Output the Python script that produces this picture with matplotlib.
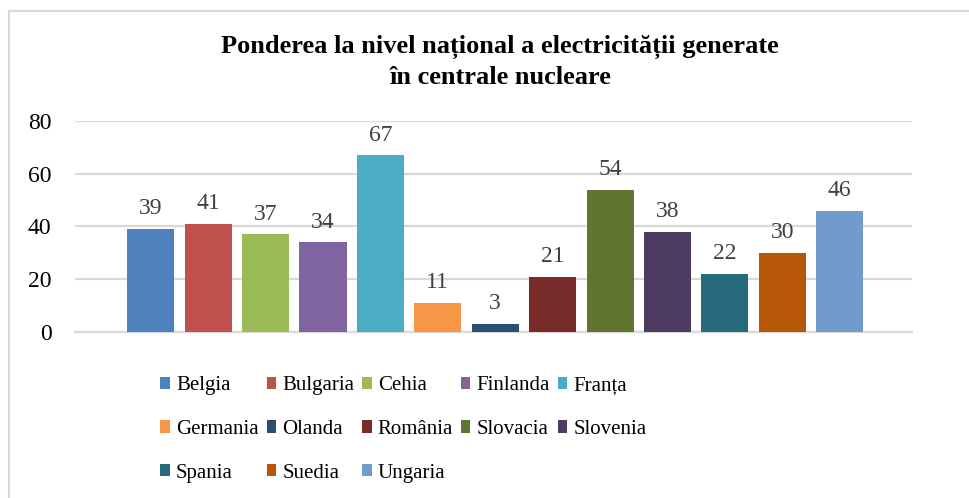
import numpy as np
import matplotlib.pyplot as plt
from matplotlib.lines import Line2D
from matplotlib.patches import Patch

# date
tari = ["Belgia", "Bulgaria", "Cehia", "Finlanda", "Franța", "Germania", "Olanda",
        "România", "Slovacia", "Slovenia", "Spania", "Suedia", "Ungaria"]
pondere = [39, 41, 37, 34, 67, 11, 3, 21, 54, 38, 22, 30, 46]
culori = ["#4F81BD", "#C0504D", "#9BBB59", "#8064A2", "#4BACC6", "#F79646", "#2C4D75",
          "#772C2A", "#5F7530", "#4D3B62", "#276A7C", "#B65708", "#729ACA"]
y_ticks = [0, 20, 40, 60, 80]

plt.rcParams['font.family'] = ['Liberation Serif', 'DejaVu Serif']

fig = plt.figure(figsize=(9.69, 4.98), dpi=100)
ax = fig.add_axes([75/969, 1-332/498, 837/969, 211/498])

x = np.arange(len(tari))
bars = ax.bar(x, pondere, width=0.82, color=culori, zorder=3)

for xi, v in zip(x, pondere):
    ax.annotate(str(v), (xi, v), xytext=(0, 7), textcoords='offset points',
                ha='center', va='bottom', fontsize=17, color='#404040')

ax.set_ylim(0, 80)
ax.set_xlim(-1.32, 13.26)
ax.set_yticks(y_ticks)
ax.set_yticklabels([str(t) for t in y_ticks], fontsize=17)
ax.tick_params(axis='y', length=0, pad=17)
ax.set_xticks([])
ax.yaxis.grid(True, color='#D9D9D9', linewidth=1.6, zorder=0)
for s in ['top', 'right', 'left']:
    ax.spines[s].set_visible(False)
ax.spines['bottom'].set_color('#D9D9D9')
ax.spines['bottom'].set_linewidth(1.6)

fig.text(0.516, 1-47/498, "Ponderea la nivel național a electricității generate",
         ha='center', va='center', fontsize=19, fontweight='bold')
fig.text(0.516, 1-78/498, "în centrale nucleare",
         ha='center', va='center', fontsize=19, fontweight='bold')

# legenda, ordonata pe randuri
ordine = [0, 5, 10, 1, 6, 11, 2, 7, 12, 3, 8, 4, 9]
handles = [Patch(facecolor=culori[i]) for i in ordine]
labels = [tari[i] for i in ordine]
fig.legend(handles, labels, ncol=5, loc='upper left', bbox_to_anchor=(150/969, 1-366/498),
           frameon=False, fontsize=15, handlelength=0.45, handleheight=0.55,
           handletextpad=0.3, columnspacing=0.38, labelspacing=1.18, borderpad=0)

# chenar
fig.add_artist(Line2D([9/969, 1], [1-11/498, 1-11/498], color='#D9D9D9', linewidth=1.5))
fig.add_artist(Line2D([9/969, 9/969], [0, 1-11/498], color='#D9D9D9', linewidth=1.5))

fig.savefig("out.png", dpi=100)
